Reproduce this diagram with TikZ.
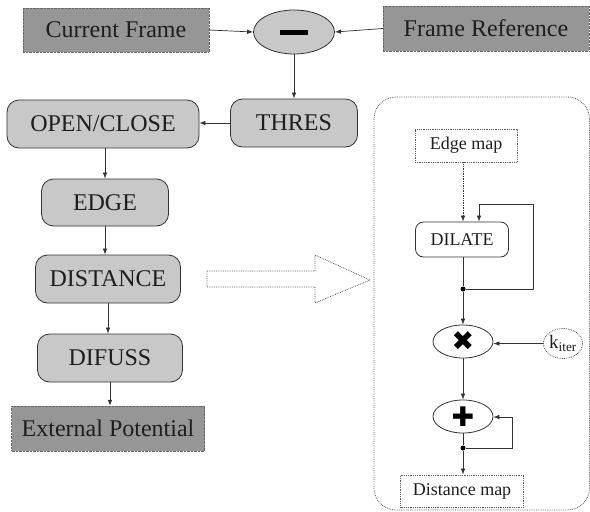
\documentclass[tikz,border=0pt]{standalone}
\usepackage{fontspec}
\setmainfont{Liberation Serif}
\newfontfamily\serifont{Liberation Serif}
\newfontfamily\symfont{DejaVu Sans}
\usetikzlibrary{arrows.meta,shapes.geometric,calc}
\definecolor{darkbox}{RGB}{150,150,150}
\definecolor{lightbox}{RGB}{200,200,200}
\definecolor{linecol}{RGB}{50,50,50}
\definecolor{txtcol}{RGB}{30,30,30}
\begin{document}
\begin{tikzpicture}[x=1pt,y=-1pt,
  big/.style={font=\serifont\fontsize{24}{28}\selectfont,text=txtcol},
  small/.style={font=\serifont\fontsize{18}{21}\selectfont,text=txtcol},
  darkrect/.style={big,draw=black!60,densely dotted,fill=darkbox,inner sep=0pt},
  procbox/.style={big,draw=linecol,fill=lightbox,rounded corners=12pt,inner sep=0pt,line width=0.8pt},
  opell/.style={ellipse,draw=linecol,inner sep=0pt,line width=0.8pt},
  dotbox/.style={small,draw=black!65,densely dotted,fill=white,inner sep=0pt,line width=0.8pt},
  arr/.style={draw=linecol,line width=0.7pt,-{Latex[length=6pt,width=4.5pt]}},
  dotarr/.style={arr,densely dotted},
  junction/.style={circle,fill=black,inner sep=0pt,minimum size=5pt}]
\useasboundingbox (0,0) rectangle (590,512);
\fill[white] (0,0) rectangle (590,512);
% top row
\node[darkrect,minimum width=186pt,minimum height=44pt] (cur) at (116,30) {Current Frame};
\node[opell,fill=lightbox,minimum width=81pt,minimum height=44pt] (minus) at (294,32) {\rule{28pt}{5pt}};
\node[darkrect,minimum width=206pt,minimum height=45pt] (ref) at (486,28.5) {Frame Reference};
\draw[arr] (cur.east) -- (minus.west);
\draw[arr] (ref.west) -- (minus.east);
% pipeline
\node[procbox,minimum width=127pt,minimum height=48pt] (thres) at (294,123) {THRES};
\node[procbox,minimum width=192pt,minimum height=48pt] (open) at (103,124) {OPEN/CLOSE};
\node[procbox,minimum width=127pt,minimum height=47pt] (edge) at (105,202.5) {EDGE};
\node[procbox,minimum width=145pt,minimum height=48pt] (dist) at (108,279) {DISTANCE};
\node[procbox,minimum width=145pt,minimum height=48pt] (dif) at (110,358) {DIFUSS};
\node[darkrect,minimum width=193pt,minimum height=45pt] (ext) at (108,428.5) {External Potential};
\draw[arr] (minus.south) -- (minus.south |- thres.north);
\draw[arr] (thres.west) -- (thres.west -| open.east);
\draw[arr] (open.south -| edge.north) -- (edge.north);
\draw[arr] (edge.south) -- (edge.south |- dist.north);
\draw[arr] (dist.south) -- (dist.south |- dif.north);
\draw[arr] (dif.south) -- (dif.south |- ext.north);
% big hollow arrow
\draw[black!65,densely dotted,line width=0.8pt] (207,271) -- (315,271) -- (315,255) -- (370,280) -- (315,303) -- (315,287) -- (207,287) -- cycle;
% right panel
\draw[black!65,densely dotted,line width=0.8pt,rounded corners=22pt] (374,97) rectangle (589.5,510);
\node[dotbox,minimum width=102pt,minimum height=33pt] (emap) at (466,145.5) {Edge map};
\node[small,draw=linecol,fill=white,rounded corners=8pt,inner sep=0pt,line width=0.8pt,minimum width=93pt,minimum height=35pt] (dilate) at (462,239.5) {DILATE};
\node[junction] (j1) at (463,289) {};
\node[opell,fill=white,minimum width=60pt,minimum height=33pt] (times) at (463,341.5) {\symfont\fontsize{27}{27}\selectfont ✖};
\node[ellipse,draw=black!70,densely dotted,line width=0.8pt,fill=white,inner sep=0pt,minimum width=36pt,minimum height=30pt,font=\serifont\fontsize{19}{21}\selectfont,text=txtcol] (kiter) at (563,343.5) {k\textsubscript{iter}};
\node[opell,fill=white,minimum width=60pt,minimum height=33pt] (plus) at (463,416.5) {\symfont\fontsize{27}{27}\selectfont ✚};
\node[junction] (j2) at (463,448) {};
\node[dotbox,minimum width=123pt,minimum height=32pt] (dmap) at (462,491) {Distance map};
\coordinate (fb1) at (533,204);
\coordinate (fb2) at (479,204);
\coordinate (fb3) at (512,417);
\draw[dotarr] (emap.south -| j1) -- (j1 |- dilate.north);
\draw[draw=linecol,line width=0.7pt] (j1 |- dilate.south) -- (j1);
\draw[arr] (j1) -| (fb1) -- (fb2) -- (fb2 |- dilate.north);
\draw[arr] (j1) -- (times.north);
\draw[arr] (kiter.west) -- (kiter.west -| times.east);
\draw[arr] (times.south) -- (plus.north);
\draw[draw=linecol,line width=0.7pt] (plus.south) -- (j2);
\draw[arr] (j2) -| (fb3) -- (fb3 -| plus.east);
\draw[arr] (j2) -- (j2 |- dmap.north);
\end{tikzpicture}
\end{document}
